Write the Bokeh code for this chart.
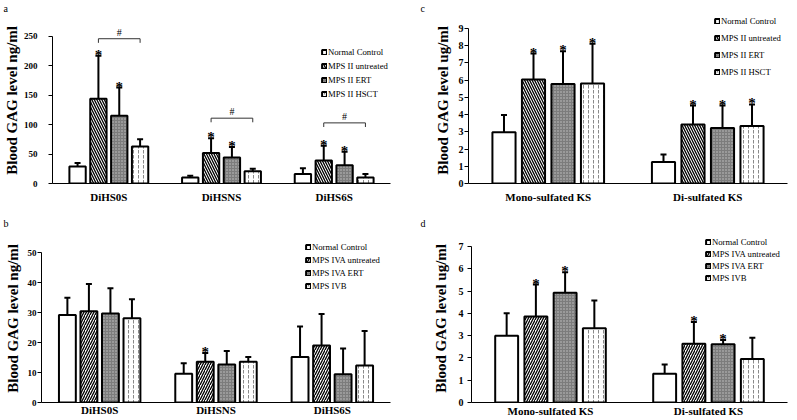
from bokeh.plotting import figure
from bokeh.models import (ColumnDataSource, Range1d, FactorRange, Whisker, TeeHead,
                          Legend, LegendItem, FixedTicker)
from bokeh.transform import dodge
from bokeh.layouts import column, row
from bokeh.embed import file_html
from bokeh.resources import INLINE
from bokeh.core.properties import value

# ---------------- data ----------------
# panel a : MPS II, heparan sulfate (ng/ml)
a_groups = ["DiHS0S", "DiHSNS", "DiHS6S"]
a_series = ["Normal Control", "MPS II untreated", "MPS II ERT", "MPS II HSCT"]
a_normal = [29, 10, 16]
a_untreated = [144, 52, 39]
a_ert = [115, 44, 31]
a_hsct = [63, 21, 10]
a_normal_sd = [6, 3, 10]
a_untreated_sd = [73, 25, 25]
a_ert_sd = [48, 18, 23]
a_hsct_sd = [12, 4, 6]
a_normal_sig = ["", "", ""]
a_untreated_sig = ["*", "*", "*"]
a_ert_sig = ["*", "*", "*"]
a_hsct_sig = ["", "", ""]
a_bracket_y = [246, 111, 103]
a_bracket_text = ["#", "#", "#"]

# panel b : MPS IVA, heparan sulfate (ng/ml)
b_groups = ["DiHS0S", "DiHSNS", "DiHS6S"]
b_series = ["Normal Control", "MPS IVA untreated", "MPS IVA ERT", "MPS IVB"]
b_normal = [29.2, 9.6, 15.2]
b_untreated = [30.4, 13.6, 19.0]
b_ert = [29.7, 12.7, 9.4]
b_ivb = [28.1, 13.6, 12.3]
b_normal_sd = [5.7, 3.5, 10.1]
b_untreated_sd = [9.1, 2.9, 10.5]
b_ert_sd = [8.4, 4.5, 8.6]
b_ivb_sd = [6.3, 1.6, 11.5]
b_normal_sig = ["", "", ""]
b_untreated_sig = ["", "*", ""]
b_ert_sig = ["", "", ""]
b_ivb_sig = ["", "", ""]

# panel c : MPS II, keratan sulfate (ug/ml)
c_groups = ["Mono-sulfated KS", "Di-sulfated KS"]
c_series = ["Normal Control", "MPS II untreated", "MPS II ERT", "MPS II HSCT"]
c_normal = [2.97, 1.25]
c_untreated = [6.04, 3.42]
c_ert = [5.77, 3.22]
c_hsct = [5.81, 3.34]
c_normal_sd = [1.0, 0.43]
c_untreated_sd = [1.5, 1.1]
c_ert_sd = [1.9, 1.3]
c_hsct_sd = [2.3, 1.25]
c_normal_sig = ["", ""]
c_untreated_sig = ["*", "*"]
c_ert_sig = ["*", "*"]
c_hsct_sig = ["*", "*"]

# panel d : MPS IVA, keratan sulfate (ug/ml)
d_groups = ["Mono-sulfated KS", "Di-sulfated KS"]
d_series = ["Normal Control", "MPS IVA untreated", "MPS IVA ERT", "MPS IVB"]
d_normal = [3.0, 1.29]
d_untreated = [3.86, 2.64]
d_ert = [4.92, 2.61]
d_ivb = [3.33, 1.95]
d_normal_sd = [1.0, 0.42]
d_untreated_sd = [1.43, 0.97]
d_ert_sd = [0.93, 0.2]
d_ivb_sd = [1.25, 0.96]
d_normal_sig = ["", ""]
d_untreated_sig = ["*", "*"]
d_ert_sig = ["*", "*"]
d_ivb_sig = ["", ""]

# ---------------- styling ----------------
SERIF = "Liberation Serif"
PITCH = 0.185
BAR_W = 0.145


def bar_styles(diag):
    return [
        dict(fill_color="white", hatch_pattern=None),
        dict(fill_color="white", hatch_pattern=diag, hatch_color="black",
             hatch_scale=5, hatch_weight=1.3),
        dict(fill_color="#7c7c7c", hatch_pattern="dot", hatch_color="#c8c8c8",
             hatch_scale=3, hatch_weight=0.8),
        dict(fill_color="white", hatch_pattern="vertical_dash", hatch_color="#8a8a8a",
             hatch_scale=5, hatch_weight=1),
    ]


def panel(letter, groups, series, means, sds, sigs, ylabel, ymax, ystep, diag,
          box, frame, axis_top, tick_font, tick_standoff, label_standoff,
          xlab_standoff, title_pos, legend_pos, legend_spacing, brackets=None):
    fx0, fy0, width, height = box
    fl, fr, ft, fb = frame
    y_end = ymax * (fb - ft) / (fb - axis_top)
    p = figure(x_range=FactorRange(factors=groups, range_padding=0),
               y_range=Range1d(0, y_end), width=width, height=height,
               output_backend="svg", toolbar_location=None,
               min_border_left=fl - fx0, min_border_right=fx0 + width - fr,
               min_border_top=ft - fy0, min_border_bottom=fy0 + height - fb)
    p.outline_line_color = None
    p.grid.visible = False
    p.background_fill_color = "white"
    p.border_fill_color = "white"

    # panel letter as the title
    tx, tstand = title_pos
    p.title.text = letter
    p.title.align = "left"
    p.title.offset = tx - fl
    p.title.standoff = tstand
    p.title.text_font = SERIF
    p.title.text_font_style = "normal"
    p.title.text_font_size = "10px"
    p.title.text_color = "black"

    xa = p.xaxis[0]
    xa.major_tick_line_color = None
    xa.major_tick_out = 0
    xa.major_tick_in = 0
    xa.minor_tick_line_color = None
    xa.axis_line_color = "black"
    xa.major_label_text_font = SERIF
    xa.major_label_text_font_style = "bold"
    xa.major_label_text_font_size = "11px"
    xa.major_label_text_color = "black"
    xa.major_label_standoff = xlab_standoff

    ya = p.yaxis[0]
    ya.bounds = (0, ymax)
    ya.ticker = FixedTicker(ticks=list(range(0, ymax + 1, ystep)))
    ya.major_tick_out = 4
    ya.major_tick_in = 0
    ya.minor_tick_line_color = None
    ya.axis_line_color = "black"
    ya.major_tick_line_color = "black"
    ya.major_label_text_font = SERIF
    ya.major_label_text_font_style = "bold"
    ya.major_label_text_font_size = tick_font
    ya.major_label_text_color = "black"
    ya.major_label_standoff = tick_standoff
    ya.axis_label = ylabel
    ya.axis_label_text_font = SERIF
    ya.axis_label_text_font_style = "bold"
    ya.axis_label_text_font_size = "15px"
    ya.axis_label_text_color = "black"
    ya.axis_label_standoff = label_standoff

    styles = bar_styles(diag)
    items = []
    for i, name in enumerate(series):
        off = PITCH * (i - 1.5)
        src = ColumnDataSource(dict(g=groups, m=means[i],
                                    u=[m + s for m, s in zip(means[i], sds[i])],
                                    star=sigs[i]))
        r = p.vbar(x=dodge("g", off, range=p.x_range), top="m", width=BAR_W, source=src,
                   line_color="black", line_width=2, **styles[i])
        p.add_layout(Whisker(source=src, base=dodge("g", off, range=p.x_range),
                             lower="m", upper="u", dimension="height",
                             line_color="black", line_width=2, lower_head=None,
                             upper_head=TeeHead(size=6, line_color="black", line_width=2)))
        p.text(x=dodge("g", off, range=p.x_range), y="u", text="star", source=src,
               text_font=value(SERIF), text_font_style="bold", text_font_size="15px",
               text_align="center", text_baseline="alphabetic", y_offset=-1,
               text_color="black")
        items.append(LegendItem(label=name, renderers=[r]))

    if brackets is not None:
        by, btxt = brackets
        tick = ymax * 0.028
        bsrc = ColumnDataSource(dict(g=groups, y=by, y2=[v - tick for v in by], t=btxt))
        o1, o3 = PITCH * -0.5, PITCH * 1.5
        kw = dict(source=bsrc, line_color="#333333", line_width=1)
        p.segment(x0=dodge("g", o1, range=p.x_range), x1=dodge("g", o3, range=p.x_range),
                  y0="y", y1="y", **kw)
        p.segment(x0=dodge("g", o1, range=p.x_range), x1=dodge("g", o1, range=p.x_range),
                  y0="y", y1="y2", **kw)
        p.segment(x0=dodge("g", o3, range=p.x_range), x1=dodge("g", o3, range=p.x_range),
                  y0="y", y1="y2", **kw)
        p.text(x=dodge("g", (o1 + o3) / 2, range=p.x_range), y="y", text="t", source=bsrc,
               text_font=value(SERIF), text_font_size="10px", text_align="center",
               text_baseline="bottom", y_offset=-1, text_color="black")

    gx, gtop = legend_pos
    n = len(series)
    leg_h = n * 10 + (n - 1) * legend_spacing
    leg = Legend(items=items, location=(gx - fl, fb - (gtop + leg_h)),
                 glyph_width=6, glyph_height=6, label_height=10, label_width=10,
                 label_standoff=1, spacing=legend_spacing, padding=0, margin=0,
                 border_line_color=None, background_fill_alpha=0,
                 label_text_font=SERIF, label_text_font_size="8.7px",
                 label_text_color="black")
    p.add_layout(leg)
    return p


TOP_ROW = (13, 184)      # common frame top / bottom of the upper row
BOT_ROW = (230, 402)     # common frame top / bottom of the lower row

pa = panel("a", a_groups, a_series,
           [a_normal, a_untreated, a_ert, a_hsct],
           [a_normal_sd, a_untreated_sd, a_ert_sd, a_hsct_sd],
           [a_normal_sig, a_untreated_sig, a_ert_sig, a_hsct_sig],
           "Blood GAG level  ng/ml", 250, 50, "left_diagonal_line",
           (0, 0, 400, 205), (52, 390) + TOP_ROW, 36, "9px", 11, 1, 7, (3, 0),
           (321, 48), 4, brackets=(a_bracket_y, a_bracket_text))

pc = panel("c", c_groups, c_series,
           [c_normal, c_untreated, c_ert, c_hsct],
           [c_normal_sd, c_untreated_sd, c_ert_sd, c_hsct_sd],
           [c_normal_sig, c_untreated_sig, c_ert_sig, c_hsct_sig],
           "Blood GAG level  ug/ml", 9, 1, "left_diagonal_line",
           (400, 0, 396, 205), (468, 787) + TOP_ROW, 28, "10px", 1, 5, 7, (420, 0),
           (714, 17), 7)

pb = panel("b", b_groups, b_series,
           [b_normal, b_untreated, b_ert, b_ivb],
           [b_normal_sd, b_untreated_sd, b_ert_sd, b_ivb_sd],
           [b_normal_sig, b_untreated_sig, b_ert_sig, b_ivb_sig],
           "Blood GAG level  ng/ml", 50, 10, "right_diagonal_line",
           (0, 205, 400, 214), (41, 390) + BOT_ROW, 252, "9px", 1, 4, 1, (3, 4),
           (305, 242), 3)

pd_ = panel("d", d_groups, d_series,
            [d_normal, d_untreated, d_ert, d_ivb],
            [d_normal_sd, d_untreated_sd, d_ert_sd, d_ivb_sd],
            [d_normal_sig, d_untreated_sig, d_ert_sig, d_ivb_sig],
            "Blood GAG level  ug/ml", 7, 1, "right_diagonal_line",
            (400, 205, 396, 214), (471, 787) + BOT_ROW, 246, "10px", 4, 7, 2, (420, 4),
            (705, 237), 2)

layout = column(row(pa, pc), row(pb, pd_))
open("out.html", "w").write(file_html(layout, INLINE))
